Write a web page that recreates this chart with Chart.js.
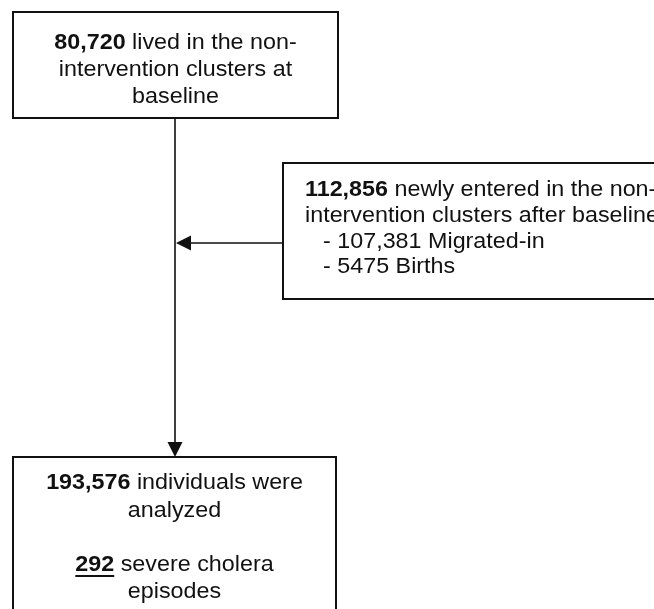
<!DOCTYPE html>
<html>
<head>
<meta charset="utf-8">
<script src="https://cdn.jsdelivr.net/npm/chart.js@4.4.0/dist/chart.umd.min.js"></script>
<style>
  html, body { margin: 0; padding: 0; background: #fff; }
  #wrap { width: 654px; height: 609px; }
</style>
</head>
<body>
<div id="wrap"><canvas id="flow" width="654" height="609"></canvas></div>
<script>
// Flow numbers
const stageCounts = [80720, 112856, 193576];
const entrySources = ['Migrated-in', 'Births'];
const entryCounts = [107381, 5475];
const severeEpisodes = [292];

// box layout in page pixels (x0, y0, x1, y1)
const boxes = {
    baseline: [13, 12, 338, 118],
    entered: [283, 163, 670, 299],
    analyzed: [13, 457, 336, 640]
};
const spineX = 175;
const joinY = 243;

const FONT = '"Liberation Sans", Arial, sans-serif';
const SIZE = 22;
const STRETCH = 1.06;   // source font is a touch wider than Liberation

function fmt(n) {
    return n >= 10000 ? n.toLocaleString('en-US') : String(n);
}

// each line is a list of [text, bold, underline] runs
function drawLine(ctx, runs, x, y, align) {
    let total = 0;
    const widths = runs.map(r => {
        ctx.font = (r[1] ? 'bold ' : '') + SIZE + 'px ' + FONT;
        const w = ctx.measureText(r[0]).width * STRETCH;
        total += w;
        return w;
    });
    let cx = align === 'center' ? x - total / 2 : x;
    runs.forEach((r, i) => {
        ctx.font = (r[1] ? 'bold ' : '') + SIZE + 'px ' + FONT;
        ctx.save();
        ctx.translate(cx, y);
        ctx.scale(STRETCH, 1);
        ctx.fillText(r[0], 0, 0);
        ctx.restore();
        if (r[2]) {
            ctx.fillRect(cx, y + 10, widths[i], 2);
        }
        cx += widths[i];
    });
}

const flowPlugin = {
    id: 'flow',
    afterDraw(chart) {
        const ctx = chart.ctx;
        const xs = chart.scales.x, ys = chart.scales.y;
        const px = v => xs.getPixelForValue(v);
        const py = v => ys.getPixelForValue(v);

        ctx.save();
        ctx.strokeStyle = '#111';
        ctx.fillStyle = '#111';

        // boxes
        ctx.lineWidth = 2;
        Object.values(boxes).forEach(b => {
            ctx.strokeRect(px(b[0]), py(b[1]), px(b[2]) - px(b[0]), py(b[3]) - py(b[1]));
        });

        // spine + arrows
        ctx.lineWidth = 1.6;
        ctx.beginPath();
        ctx.moveTo(px(spineX), py(boxes.baseline[3]));
        ctx.lineTo(px(spineX), py(boxes.analyzed[1]) - 10);
        ctx.moveTo(px(boxes.entered[0]), py(joinY));
        ctx.lineTo(px(spineX) + 10, py(joinY));
        ctx.stroke();

        const ah = 15, aw = 7.5;
        ctx.beginPath();
        ctx.moveTo(px(spineX), py(boxes.analyzed[1]));
        ctx.lineTo(px(spineX) - aw, py(boxes.analyzed[1]) - ah);
        ctx.lineTo(px(spineX) + aw, py(boxes.analyzed[1]) - ah);
        ctx.closePath();
        ctx.fill();

        ctx.beginPath();
        ctx.moveTo(px(spineX) + 1, py(joinY));
        ctx.lineTo(px(spineX) + 1 + ah, py(joinY) - aw);
        ctx.lineTo(px(spineX) + 1 + ah, py(joinY) + aw);
        ctx.closePath();
        ctx.fill();

        // text
        ctx.textBaseline = 'middle';
        ctx.fillStyle = '#111';
        const c0 = (boxes.baseline[0] + boxes.baseline[2]) / 2;
        drawLine(ctx, [[fmt(stageCounts[0]), true], [' lived in the non-', false]], px(c0), py(43), 'center');
        drawLine(ctx, [['intervention clusters at', false]], px(c0), py(70), 'center');
        drawLine(ctx, [['baseline', false]], px(c0), py(97), 'center');

        const tx = boxes.entered[0] + 22;
        drawLine(ctx, [[fmt(stageCounts[1]), true], [' newly entered in the non-', false]], px(tx), py(190), 'left');
        drawLine(ctx, [['intervention clusters after baseline', false]], px(tx), py(216), 'left');
        entrySources.forEach((s, i) => {
            drawLine(ctx, [['- ' + fmt(entryCounts[i]) + ' ' + s, false]], px(tx + 18), py(242 + i * 25), 'left');
        });

        const c2 = (boxes.analyzed[0] + boxes.analyzed[2]) / 2;
        drawLine(ctx, [[fmt(stageCounts[2]), true], [' individuals were', false]], px(c2), py(483), 'center');
        drawLine(ctx, [['analyzed', false]], px(c2), py(511), 'center');
        drawLine(ctx, [[fmt(severeEpisodes[0]), true, true], [' severe cholera', false]], px(c2), py(565), 'center');
        drawLine(ctx, [['episodes', false]], px(c2), py(592), 'center');

        ctx.restore();
    }
};

new Chart(document.getElementById('flow'), {
    type: 'scatter',
    data: { datasets: [{ data: [], pointRadius: 0 }] },
    options: {
        responsive: false,
        animation: false,
        layout: { padding: 0 },
        plugins: { legend: { display: false }, tooltip: { enabled: false } },
        scales: {
            x: { type: 'linear', min: 0, max: 654, display: false },
            y: { type: 'linear', min: 0, max: 609, reverse: true, display: false }
        }
    },
    plugins: [flowPlugin]
});
</script>
</body>
</html>
